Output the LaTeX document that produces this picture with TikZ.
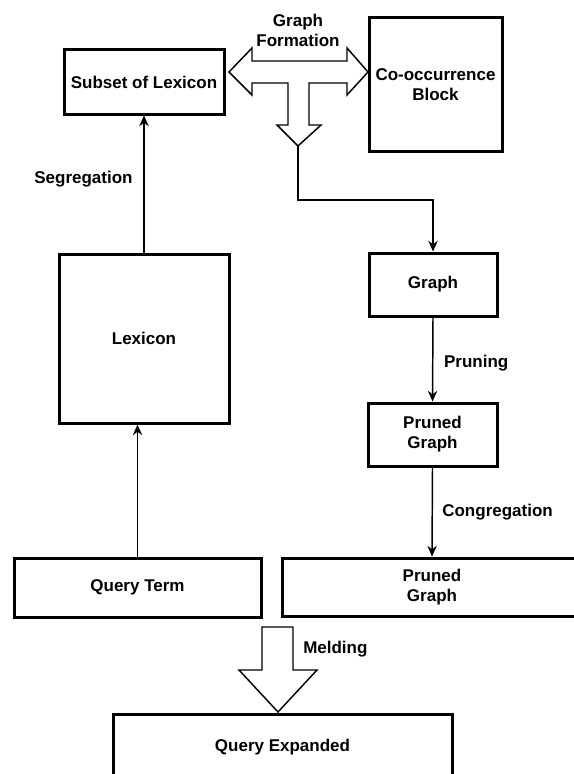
\documentclass[tikz,border=0pt]{standalone}
\usepackage{fontspec}
\setmainfont{Liberation Sans}
\usetikzlibrary{arrows.meta}
\begin{document}
\begin{tikzpicture}[x=0.75pt,y=-0.75pt,font=\fontsize{12.75}{15}\selectfont\bfseries]
\tikzset{block/.style={draw, line width=2.25pt, rectangle, inner sep=2pt, align=center},
         lbl/.style={inner sep=0pt, align=center},
         conn/.style={line width=1.1pt, -{Stealth[length=8pt,width=7pt]}},
         fat/.style={draw, line width=1.1pt, line join=miter, fill=white}}
    \useasboundingbox (0,0) rectangle (574,774);
    \clip (0,0) rectangle (574,774);
    \node[block, minimum width=120pt, minimum height=48pt] at (144,82) (subset) {Subset of Lexicon};
    \node[block, minimum width=99.75pt, minimum height=99.75pt] at (435.5,84.5) (cooc) {Co-occurrence\\Block};
    \node[block, minimum width=127.5pt, minimum height=126.75pt] at (144,338.5) (lexicon) {Lexicon};
    \node[block, minimum width=96pt, minimum height=47.25pt] at (433,284.5) (graph) {Graph};
    \node[block, minimum width=96.75pt, minimum height=47.25pt] at (432.5,434.5) (pruned) {Pruned\\Graph};
    \node[block, minimum width=185.25pt, minimum height=44.25pt] at (137.5,587.5) (qterm) {Query Term};
    \node[block, minimum width=224.25pt, minimum height=43.5pt] at (432,587) (prunedB) {Pruned\\Graph};
    \node[block, minimum width=254.25pt, minimum height=49.5pt] at (282.5,747) (qexp) {Query Expanded};

    \node[lbl] at (298,30) (gform) {Graph\\Formation};
    \node[lbl, right] at (303,649) (meld) {Melding};

    % double headed T arrow between subset and block
    \draw[fat] (229,72) -- (252,48) -- (252,61) -- (347,61) -- (347,48) -- (368,72)
        -- (347,95) -- (347,83) -- (309,83) -- (309,125) -- (321,125) -- (298,146)
        -- (277,125) -- (288,125) -- (288,83) -- (252,83) -- (252,95) -- cycle;
    \coordinate (ttip) at (298,146);
    % melding arrow
    \draw[fat] (262,627) -- (293,627) -- (293,670) -- (317,670) -- (278,712)
        -- (239,670) -- (262,670) -- cycle;

    \path[conn] (qterm.north) edge (qterm.north |- lexicon.south);
    \path[conn] (lexicon) edge node[lbl, left=8pt, yshift=4pt] {Segregation} (subset);
    \path[conn] (graph.south) edge node[lbl, right=8pt, yshift=-3pt] {Pruning} (pruned.north);
    \path[conn] (pruned.south) edge node[lbl, right=7pt] {Congregation} (prunedB.north);
    \draw[conn] (ttip) -- ++(0,54) -| (graph.north);
\end{tikzpicture}
\end{document}
